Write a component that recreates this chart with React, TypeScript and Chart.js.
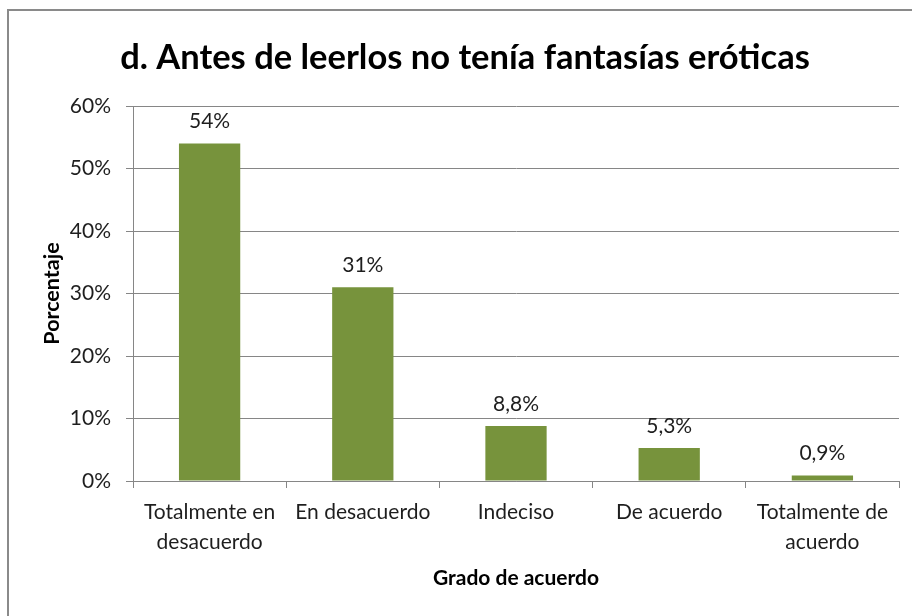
import React, { useEffect, useRef } from "react";
import { Chart, registerables } from "chart.js";

Chart.register(...registerables);

const TITLE = "d. Antes de leerlos no tenía fantasías eróticas";
const X_TITLE = "Grado de acuerdo";
const Y_TITLE = "Porcentaje";
const categories: (string | string[])[] = [
  ["Totalmente en", "desacuerdo"],
  "En desacuerdo",
  "Indeciso",
  "De acuerdo",
  ["Totalmente de", "acuerdo"],
];
const values = [54, 31, 8.8, 5.3, 0.9];
const yMin = 0;
const yMax = 60;
const yStep = 10;

const FONT = "Lato, 'Liberation Sans', sans-serif";
const TEXT = "#1e1e1e";
const GRID = "#868686";
const BAR = "#77933C";

const fmt = (v: number) => String(v).replace(".", ",") + "%";

export default function App() {
  const ref = useRef<HTMLCanvasElement | null>(null);

  useEffect(() => {
    document.documentElement.style.overflow = "hidden";
    const canvas = ref.current!;
    const titlePlugin = {
      id: "customTitle",
      afterDraw(chart: any) {
        const ctx = chart.ctx;
        ctx.save();
        ctx.font = `bold 34.5px ${FONT}`;
        ctx.fillStyle = "#000";
        ctx.textAlign = "center";
        ctx.textBaseline = "middle";
        ctx.fillText(TITLE, 465, 58);
        ctx.restore();
      },
    };
    const labelPlugin = {
      id: "dataLabels",
      afterDatasetsDraw(chart: any) {
        const ctx = chart.ctx;
        const meta = chart.getDatasetMeta(0);
        ctx.save();
        ctx.font = `21px ${FONT}`;
        ctx.fillStyle = TEXT;
        ctx.textAlign = "center";
        ctx.textBaseline = "middle";
        meta.data.forEach((bar: any, i: number) => {
          ctx.fillText(fmt(values[i]), bar.x, bar.y - 22);
        });
        ctx.restore();
      },
    };
    const chart = new Chart(canvas, {
      type: "bar",
      data: {
        labels: categories,
        datasets: [
          {
            data: values,
            backgroundColor: BAR,
            borderWidth: 0,
            barPercentage: 0.4,
            categoryPercentage: 1.0,
          },
        ],
      },
      options: {
        animation: false,
        responsive: false,
        devicePixelRatio: 1,
        layout: { padding: { top: 106, right: 13, left: 0, bottom: 0 } },
        plugins: {
          legend: { display: false },
          tooltip: { enabled: false },
          title: { display: false },
        },
        scales: {
          x: {
            offset: true,
            grid: {
              display: true,
              offset: true,
              drawOnChartArea: false,
              drawTicks: true,
              tickLength: 7,
              color: GRID,
              lineWidth: 1,
            },
            border: { display: true, color: GRID, width: 1 },
            ticks: {
              color: TEXT,
              font: { family: FONT, size: 21, lineHeight: 1.45 },
              padding: 9,
              maxRotation: 0,
              autoSkip: false,
            },
            title: {
              display: true,
              text: X_TITLE,
              color: "#000",
              font: { family: FONT, size: 21, weight: "bold", lineHeight: 1.2 },
              padding: { top: 0, bottom: 25 },
            },
            afterFit(scale: any) {
              scale.height = 135;
            },
          },
          y: {
            min: yMin,
            max: yMax,
            ticks: {
              stepSize: yStep,
              color: TEXT,
              font: { family: FONT, size: 21 },
              padding: 15,
              callback: (v: any) => `${v}%`,
            },
            grid: {
              color: GRID,
              lineWidth: 1,
              tickLength: 7,
              drawTicks: true,
            },
            border: { display: true, color: GRID, width: 1 },
            title: {
              display: true,
              text: Y_TITLE,
              color: "#000",
              font: { family: FONT, size: 21.5, weight: "bold", lineHeight: 1.2 },
              padding: { top: 39, bottom: 0 },
            },
            afterFit(scale: any) {
              scale.width = 133;
            },
          },
        },
      },
      plugins: [titlePlugin, labelPlugin],
    } as any);
    return () => chart.destroy();
  }, []);

  return (
    <div>
      <canvas
        ref={ref}
        width={912}
        height={616}
        style={{ position: "fixed", left: 0, top: 0, width: 912, height: 616, background: "#fff" }}
      />
      <div
        style={{
          position: "fixed",
          left: 7,
          top: 9,
          width: 940,
          height: 640,
          border: "2px solid #8a8a8a",
          pointerEvents: "none",
        }}
      />
    </div>
  );
}
